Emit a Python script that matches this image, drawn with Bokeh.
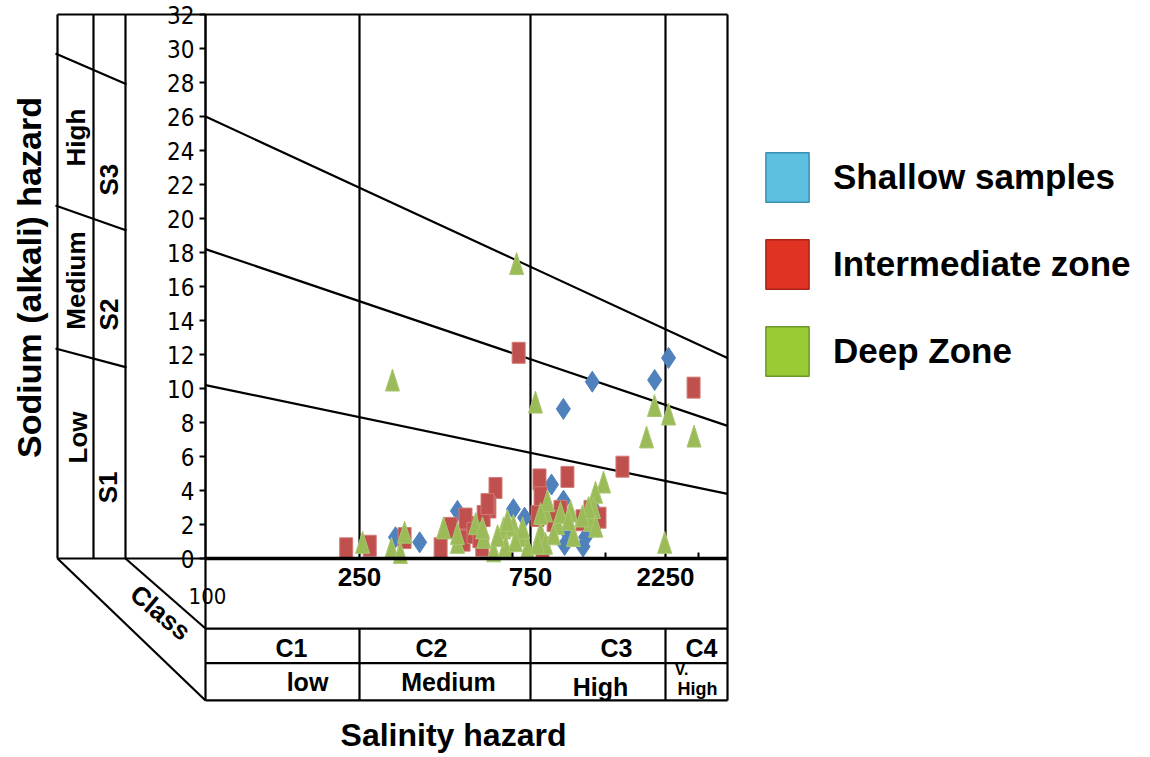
import numpy as np
from bokeh.plotting import figure
from bokeh.models import (Range1d, LinearAxis, FixedTicker, Label, Legend,
                          LegendItem, ColumnDataSource)
from bokeh.embed import file_html
from bokeh.resources import INLINE

# ---------------- data (EC in uS/cm, SAR) ----------------
shallow_ec = [1240, 2060, 2340, 980, 890, 981, 368, 315, 469, 672, 722, 1013,
              1174, 990, 1150, 1240]
shallow_sar = [10.4, 10.5, 11.8, 8.8, 4.35, 3.4, 0.95, 1.25, 2.8, 2.9, 2.4, 1.5,
               1.25, 0.8, 0.7, 3.05]

inter_ec = [695, 3230, 1585, 807, 1013, 599, 576, 555, 500, 488, 231, 267, 334,
            421, 449, 494, 814, 794, 957, 1145, 1252, 1315, 905, 827, 520, 569,
            550, 1222, 540]
inter_sar = [12.1, 10.05, 5.4, 4.65, 4.8, 4.15, 3.0, 2.5, 1.85, 1.05, 0.6, 0.75,
             1.2, 0.6, 1.8, 2.35, 3.6, 2.5, 2.8, 2.25, 2.25, 2.4, 2.2, 0.65, 1.5,
             3.2, 0.75, 2.8, 1.25]

deep_ec = [686, 309, 781, 2057, 2340, 1928, 3250, 2235, 1359, 1273, 1252, 255,
           307, 325, 334, 429, 469, 469, 527, 555, 592, 631, 672, 713, 847, 814,
           934, 1039, 1064, 1222, 847, 861, 736, 794, 814, 957, 905, 1203, 1275,
           551, 647, 713, 639, 681, 607, 1145, 1022]
deep_sar = [17.35, 10.5, 9.2, 9.0, 8.5, 7.15, 7.2, 0.95, 4.5, 3.9, 3.0, 0.95,
            0.6, 0.35, 1.55, 1.8, 0.95, 1.47, 2.05, 1.25, 0.45, 1.8, 1.95, 1.35,
            2.8, 1.55, 2.05, 2.8, 1.35, 2.25, 0.9, 3.4, 0.65, 0.9, 2.65, 2.7,
            1.45, 3.0, 1.9, 1.8, 2.25, 1.8, 0.75, 1.05, 1.35, 2.5, 2.3]

series_names = ["Shallow samples", "Intermediate zone", "Deep Zone"]

ec_boundaries = [250, 750, 2250]          # salinity class limits
ec_tick_labels = ["250", "750", "2250"]
ec_min, ec_max = 100, 5000
sar_ticks = list(range(0, 33, 2))
sar_max = 32
# sodium hazard boundary lines: SAR at EC = 100 and at EC = 5000
sar_line_left = [10.2, 18.2, 26.0]
sar_line_right = [3.8, 7.8, 11.8]
# the same boundaries on the oblique "class" panel (left side)
panel_line_left = [12.35, 20.76, 29.7]
panel_line_right = [11.24, 19.29, 27.9]

c_classes = ["C1", "C2", "C3", "C4"]
c_words = ["low", "Medium", "High"]
s_classes = ["S1", "S2", "S3"]
s_words = ["Low", "Medium", "High"]

# ---------------- horizontal diagram scale ----------------
EC_KNOTS = [ec_min] + ec_boundaries + [ec_max]
POS_KNOTS = [205, 359, 530, 665, 727]     # diagram position of each limit


def pos(ec):
    return np.interp(np.log10(np.asarray(ec, dtype=float)),
                     np.log10(EC_KNOTS), POS_KNOTS)


W, H = 1150, 757
X0, X1 = 0, 1150
Y0, Y1 = -11.706, 32.824
PXX = W / (X1 - X0)
PXY = H / (Y1 - Y0)

p = figure(width=W, height=H, x_range=Range1d(X0, X1), y_range=Range1d(Y0, Y1),
           x_axis_type=None, y_axis_type=None, toolbar_location=None,
           output_backend="svg", min_border=0, outline_line_color=None)

xl, xr = float(pos(ec_min)), float(pos(ec_max))
PANEL = [57, 93, 125]
TABLE_Y = [-4.12, -6.15, -8.35]

x0s, y0s, x1s, y1s = [], [], [], []


def seg(a, b, c, d):
    x0s.append(a); y0s.append(b); x1s.append(c); y1s.append(d)


seg(PANEL[0], sar_max, xr, sar_max)                 # top edge
for px in PANEL:
    seg(px, 0, px, sar_max)                         # panel columns
seg(PANEL[0], 0, xl, 0)                             # panel bottom
seg(xl, TABLE_Y[2], xl, 0)                          # left edge below axis
seg(xr, TABLE_Y[2], xr, sar_max)                    # right edge
for bx in pos(ec_boundaries):
    seg(bx, 0, bx, sar_max)
    seg(bx, TABLE_Y[2], bx, TABLE_Y[0])
for ty in TABLE_Y:
    seg(xl, ty, xr, ty)
seg(PANEL[2], 0, xl, TABLE_Y[0])                    # oblique edges
seg(PANEL[0], 0, xl, TABLE_Y[2])
for a, b in zip(sar_line_left, sar_line_right):
    seg(xl, a, xr, b)
for a, b in zip(panel_line_left, panel_line_right):
    seg(PANEL[0] - 2, a, PANEL[2] + 1, b)

p.segment(x0=x0s, y0=y0s, x1=x1s, y1=y1s, line_color="black", line_width=2.2)

# ---------------- axes ----------------
NARROW = "Liberation Sans Narrow, DejaVu Sans Condensed, sans-serif"
ARIAL = "Liberation Sans"

yaxis = LinearAxis(fixed_location=xl, bounds=(0, sar_max),
                   ticker=FixedTicker(ticks=sar_ticks),
                   major_tick_out=6, major_tick_in=0, minor_tick_out=0,
                   minor_tick_in=0, axis_line_width=2.5, major_tick_line_width=2,
                   major_label_text_font=NARROW,
                   major_label_text_font_size="24px",
                   major_label_text_color="black", major_label_standoff=5)
p.add_layout(yaxis, "left")

tick_pos = [float(v) for v in pos(ec_boundaries)]
xaxis = LinearAxis(fixed_location=0, bounds=(xl, xr),
                   ticker=FixedTicker(ticks=tick_pos,
                                      minor_ticks=[float(v) for v in pos([668, 1380, 3440])]),
                   major_label_overrides={t: s for t, s in zip(tick_pos, ec_tick_labels)},
                   major_tick_out=0, major_tick_in=0, minor_tick_out=0,
                   minor_tick_in=6, minor_tick_line_width=2, axis_line_width=3.5,
                   major_label_text_font=ARIAL,
                   major_label_text_font_style="bold",
                   major_label_text_font_size="26px",
                   major_label_text_color="black", major_label_standoff=9)
p.add_layout(xaxis, "below")

# ---------------- markers ----------------
src_s = ColumnDataSource(dict(x=pos(shallow_ec), y=shallow_sar))
src_i = ColumnDataSource(dict(x=pos(inter_ec), y=inter_sar))
p.scatter("x", "y", source=src_s, marker="diamond", size=21,
          fill_color="#4f81bd", line_color="#4f81bd")
p.rect("x", "y", source=src_i, width=13, height=21, width_units="screen",
       height_units="screen", fill_color="#c0504d", line_color="#d27a77",
       line_width=1)

TRI_W, TRI_H = 14, 22
dx, dy = TRI_W / 2 / PXX, TRI_H / 2 / PXY
dpos = pos(deep_ec)
tri_xs = [[x - dx, x + dx, x] for x in dpos]
tri_ys = [[y - dy, y - dy, y + dy] for y in deep_sar]
p.patches(xs=tri_xs, ys=tri_ys, fill_color="#9bbb59", line_color="#a9c770",
          line_width=1)

# ---------------- texts ----------------


def lab(x, y, text, size, style="normal", angle=0.0, font=ARIAL):
    p.add_layout(Label(x=x, y=y, text=text, angle=angle, text_font=font,
                       text_font_size=size, text_font_style=style,
                       text_align="center", text_baseline="middle",
                       text_color="black"))


lab(28, 16.53, "Sodium (alkali) hazard", "34px", "bold", np.pi / 2)
lab(453, -10.41, "Salinity hazard", "32px", "bold")
lab(207, -2.18, "100", "22px", font=NARROW)
lab(160, -3.18, "Class", "26px", "bold", angle=-0.70)

# S classes in the left panel
for (wx, wy), w in zip([(77, 7.12), (75, 16.35), (75, 24.76)], s_words):
    lab(wx, wy, w, "26px", "bold", angle=np.pi / 2)
for (sx, sy), s in zip([(107, 4.18), (108, 14.35), (108, 22.29)], s_classes):
    lab(sx, sy, s, "26px", "bold", angle=np.pi / 2)

# C classes in the bottom table
for cx, c in zip([291, 431, 616, 701], c_classes):
    lab(cx, -5.29, c, "25px", "bold")
for (wx, wy), w in zip([(307, -7.24), (448, -7.24), (600, -7.53)], c_words):
    lab(wx, wy, w, "25px", "bold")
lab(681, -6.53, "V.", "16px", "bold")
lab(697, -7.65, "High", "18px", "bold")

# ---------------- legend ----------------
leg_fill = ["#5ec0e1", "#e03323", "#9acb34"]
leg_line = ["#3a8fb0", "#a82518", "#6a962a"]
leg_items = []
for name, fc, lc in zip(series_names, leg_fill, leg_line):
    r = p.quad(left=[np.nan], right=[np.nan], top=[np.nan], bottom=[np.nan],
               fill_color=fc, line_color=lc, line_width=1.5, visible=False)
    leg_items.append(LegendItem(label=name, renderers=[r]))

legend = Legend(items=leg_items, location=(760, 375), orientation="vertical",
                glyph_width=54, glyph_height=62, spacing=25, padding=0,
                margin=0, label_standoff=19, label_text_font=ARIAL,
                label_text_font_size="35px", label_text_font_style="bold",
                label_text_color="black", border_line_color=None,
                background_fill_alpha=0, inactive_fill_alpha=0)
p.add_layout(legend)

open("out.html", "w").write(file_html(p, INLINE))
